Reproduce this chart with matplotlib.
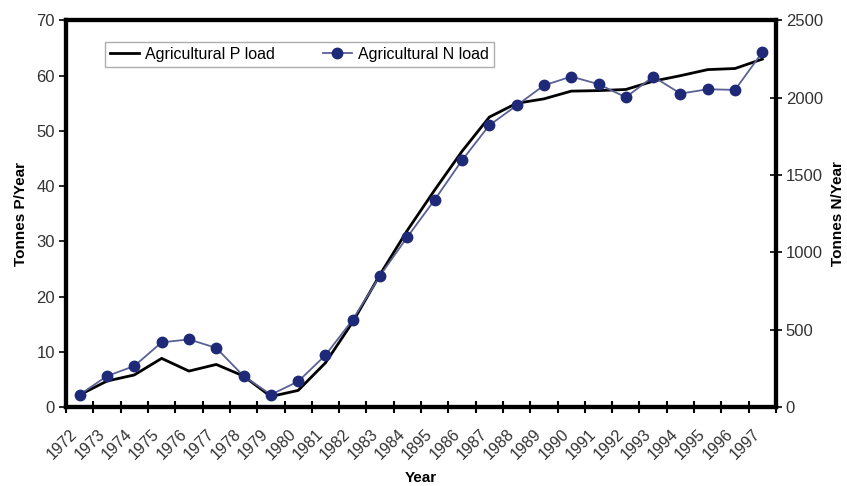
import numpy as np
import matplotlib.pyplot as plt
import matplotlib.transforms as mtransforms

plt.rcParams['font.family'] = ['Liberation Sans', 'DejaVu Sans']

# category labels as printed on the original (incl. the "1895" typo)
years = ['1972', '1973', '1974', '1975', '1976', '1977', '1978', '1979', '1980',
         '1981', '1982', '1983', '1984', '1895', '1986', '1987', '1988', '1989',
         '1990', '1991', '1992', '1993', '1994', '1995', '1996', '1997']

# Agricultural P load, tonnes P/year (left axis)
p_load = [2.2, 4.7, 5.8, 8.8, 6.5, 7.7, 5.6, 1.9, 3.0, 8.0, 15.4, 24.0, 32.0,
          39.3, 46.3, 52.5, 55.0, 55.8, 57.2, 57.3, 57.5, 59.0, 60.0, 61.1,
          61.3, 63.0]

# Agricultural N load, tonnes N/year (right axis)
n_load = [80, 200, 265, 418, 437, 382, 200, 80, 165, 335, 565, 850, 1100,
          1340, 1595, 1822, 1950, 2080, 2137, 2088, 2003, 2137, 2027, 2055,
          2051, 2295]

x = np.arange(len(years)) + 0.5

fig = plt.figure(figsize=(8.47, 4.86), dpi=100)
ax = fig.add_axes([0.078, 0.1626, 0.8382, 0.7953])
ax2 = ax.twinx()

line_p, = ax.plot(x, p_load, color='black', lw=2.0, label='Agricultural P load', zorder=3)
line_n, = ax2.plot(x, n_load, color='#5b6095', lw=1.3, marker='o', markersize=7.5,
                   markerfacecolor='#1e2a78', markeredgecolor='#1e2a78',
                   label='Agricultural N load', zorder=4)

ax.set_xlim(0, len(years))
ax.set_ylim(0, 70)
ax.set_yticks(np.arange(0, 71, 10))
ax2.set_ylim(0, 2500)
ax2.set_yticks(np.arange(0, 2501, 500))

# ticks at category boundaries, labels at category centres
ax.set_xticks(np.arange(len(years) + 1))
ax.set_xticklabels([])
ax.set_xticks(x, minor=True)
ax.set_xticklabels(years, minor=True, rotation=45, ha='right', rotation_mode='anchor')
ax.tick_params(axis='x', which='minor', length=0, labelsize=11.5, colors='#333333')
ax.tick_params(axis='x', which='major', direction='inout', length=8, width=1.5)
offset = mtransforms.ScaledTranslation(-0.1, -0.15, fig.dpi_scale_trans)
for lbl in ax.get_xticklabels(minor=True):
    lbl.set_transform(lbl.get_transform() + offset)

ax.tick_params(axis='y', direction='out', length=5, width=1.2, labelsize=12,
               labelcolor='#333333', pad=3)
ax2.tick_params(axis='y', direction='inout', length=8, width=1.2, labelsize=12,
                labelcolor='#333333', pad=3)

for a in (ax, ax2):
    for s in a.spines.values():
        s.set_linewidth(3)
        s.set_color('black')

ax.set_ylabel('Tonnes P/Year', fontsize=11, fontweight='bold', labelpad=6)
ax2.set_ylabel('Tonnes N/Year', fontsize=11, fontweight='bold', labelpad=6)
ax.set_xlabel('Year', fontsize=11, fontweight='bold')
ax.xaxis.set_label_coords(0.5, -0.165)

leg = ax.legend(handles=[line_p, line_n], loc='upper left', ncol=2,
                bbox_to_anchor=(0.055, 0.944), borderaxespad=0, fontsize=11.5,
                frameon=True, fancybox=False, edgecolor='#999999',
                handlelength=1.8, handletextpad=0.4, columnspacing=3.0,
                borderpad=0.3)
leg.get_frame().set_linewidth(1.0)

fig.savefig('out.png', dpi=100)
